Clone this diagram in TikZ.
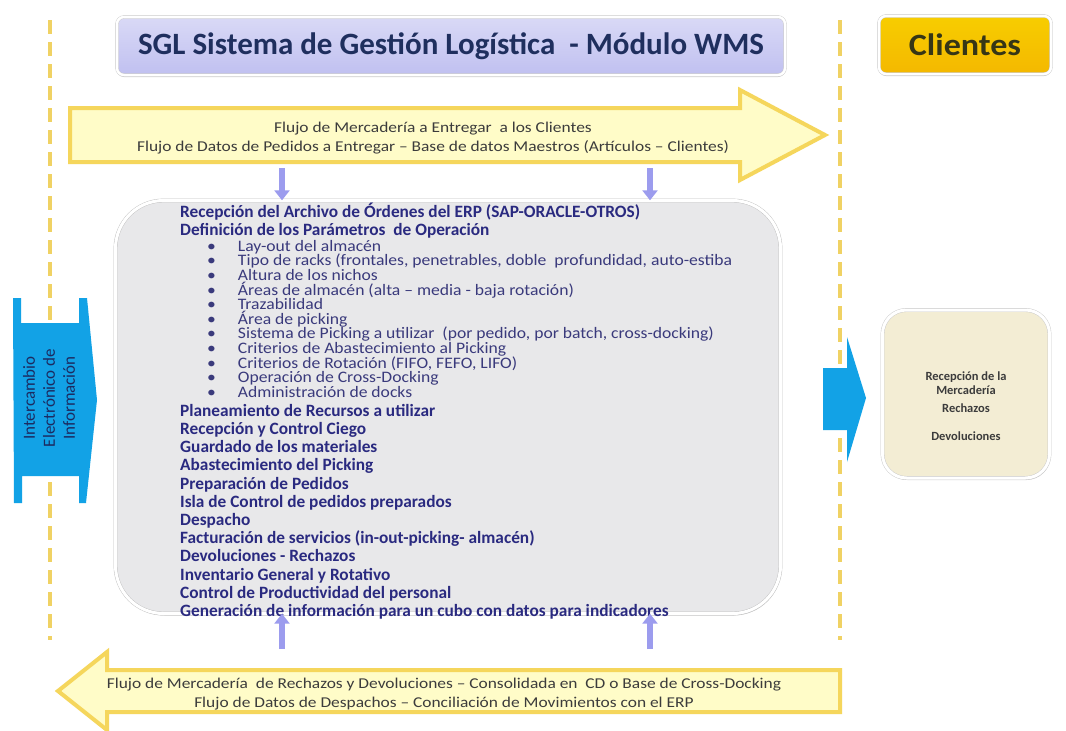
\documentclass[tikz,border=0pt]{standalone}
\usepackage{fontspec}
\setmainfont{Carlito}
\newfontfamily\flowfont[FakeStretch=1.16]{Carlito}
\newfontfamily\paramfont[FakeStretch=1.1]{Carlito}
\newfontfamily\clientfont[FakeStretch=1.1]{Carlito}
\usepackage{tikz}
\tikzset{>=latex}
\usetikzlibrary{shadows}
\usetikzlibrary{arrows.meta}
\definecolor{titlelavender}{HTML}{C0C0F0}
\definecolor{titlenavy}{HTML}{1F2F5E}
\definecolor{clientgold}{HTML}{F4B800}
\definecolor{clientbrown}{HTML}{363616}
\definecolor{flowfill}{HTML}{FFFCC8}
\definecolor{flowedge}{HTML}{F5D65C}
\definecolor{dividergold}{HTML}{F0D264}
\definecolor{stemlavender}{HTML}{9C9CEE}
\definecolor{wmsgrey}{HTML}{E8E8EA}
\definecolor{wmsnavy}{HTML}{2A2A80}
\definecolor{bulletnavy}{HTML}{3A3A7C}
\definecolor{exchangeblue}{HTML}{12A2E6}
\definecolor{exchangenavy}{HTML}{1C2A60}
\definecolor{receptioncream}{HTML}{F3EDD4}
\definecolor{flowgrey}{HTML}{3C3C3C}
\tikzset{
  titlebox/.style={draw=gray!45, double=white, double distance=2.5pt, rounded corners=7pt, top color=titlelavender!60, bottom color=titlelavender, drop shadow={opacity=0.35, shadow xshift=0pt, shadow yshift=-2pt}, text=titlenavy, font=\bfseries\fontsize{31}{34}\selectfont, minimum width=668pt, minimum height=58pt, inner sep=0pt},
  clientbox/.style={draw=gray!45, double=white, double distance=2.5pt, rounded corners=7pt, top color=clientgold!70!yellow, bottom color=clientgold, drop shadow={opacity=0.35, shadow xshift=0pt, shadow yshift=-2pt}, text=clientbrown, font=\clientfont\bfseries\fontsize{31}{34}\selectfont, minimum width=172pt, minimum height=58pt, inner sep=0pt},
  flowshape/.style={fill=flowfill, draw=flowedge, line width=4pt, line join=miter},
  flowtext/.style={text=flowgrey, font=\flowfont\fontsize{15}{19}\selectfont, align=center, inner sep=0pt},
  divider/.style={dividergold, line width=3.5pt, dash pattern=on 14pt off 8pt},
  stem/.style={stemlavender, line width=6pt, -{Triangle[width=15pt,length=10pt]}},
  wmsbox/.style={draw=gray!50, double=white, double distance=3pt, rounded corners=48pt, fill=wmsgrey, drop shadow={opacity=0.4, shadow xshift=1pt, shadow yshift=-2pt}, minimum width=665pt, minimum height=413pt, inner sep=0pt},
  steplist/.style={text=wmsnavy, font=\bfseries\fontsize{17.3}{18.2}\selectfont, align=left, anchor=north west, inner sep=0pt},
  paramlist/.style={text=bulletnavy, font=\paramfont\fontsize{16}{14.6}\selectfont, align=left, anchor=north west, inner sep=0pt},
  exchange/.style={fill=exchangeblue, draw=none},
  exchangetext/.style={text=exchangenavy, font=\fontsize{17}{20}\selectfont, align=center, rotate=90, inner sep=0pt},
  receptionbox/.style={draw=gray!45, double=white, double distance=3pt, rounded corners=24pt, fill=receptioncream, drop shadow={opacity=0.35, shadow xshift=1pt, shadow yshift=-2pt}, minimum width=167pt, minimum height=168pt, inner sep=0pt},
  receptiontext/.style={text=flowgrey, font=\bfseries\fontsize{12.5}{14}\selectfont, align=center, inner sep=0pt}
}

\begin{document}
\begin{tikzpicture}[x=1pt, y=-1pt]
\useasboundingbox[fill=white] (0,0) rectangle (1066,731);
\draw[divider] (50,20) -- (50,640);
\draw[divider] (840,20) -- (840,640);
\node[titlebox] (sgl) at (451,46) {SGL Sistema de Gestión Logística \ - Módulo WMS};
\node[clientbox] (clientes) at (965,45) {Clientes};
\draw[flowshape] (70,108) -- (740,108) -- (740,90) -- (825,135) -- (740,180) -- (740,162) -- (70,162) -- cycle;
\node[flowtext] (flowout) at (433,138) {Flujo de Mercadería a Entregar \ a los Clientes\\Flujo de Datos de Pedidos a Entregar – Base de datos Maestros (Artículos – Clientes)};
\node[wmsbox] (wms) at (448,407) {};
\coordinate (leftstem) at (282,0);
\coordinate (rightstem) at (650,0);
\draw[stem] (leftstem |- 0,168) -- (leftstem |- wms.north);
\draw[stem] (rightstem |- 0,168) -- (rightstem |- wms.north);
\node[steplist] (header) at (180,203) {Recepción del Archivo de Órdenes del ERP (SAP-ORACLE-OTROS)\\Definición de los Parámetros \ de Operación};
\node[paramlist] (params) at (207,240) {%
\textbullet\hspace{22pt}Lay-out del almacén\\
\textbullet\hspace{22pt}Tipo de racks (frontales, penetrables, doble \ profundidad, auto-estiba\\
\textbullet\hspace{22pt}Altura de los nichos\\
\textbullet\hspace{22pt}Áreas de almacén (alta – media - baja rotación)\\
\textbullet\hspace{22pt}Trazabilidad\\
\textbullet\hspace{22pt}Área de picking\\
\textbullet\hspace{22pt}Sistema de Picking a utilizar \ (por pedido, por batch, cross-docking)\\
\textbullet\hspace{22pt}Criterios de Abastecimiento al Picking\\
\textbullet\hspace{22pt}Criterios de Rotación (FIFO, FEFO, LIFO)\\
\textbullet\hspace{22pt}Operación de Cross-Docking\\
\textbullet\hspace{22pt}Administración de docks};
\node[steplist] (steps) at (180,404) {%
Planeamiento de Recursos a utilizar\\
Recepción y Control Ciego\\
Guardado de los materiales\\
Abastecimiento del Picking\\
Preparación de Pedidos\\
Isla de Control de pedidos preparados\\
Despacho\\
Facturación de servicios (in-out-picking- almacén)\\
Devoluciones - Rechazos\\
Inventario General y Rotativo\\
Control de Productividad del personal\\
Generación de información para un cubo con datos para indicadores};
\draw[flowshape] (840,670) -- (107,670) -- (107,652) -- (58,691) -- (107,730) -- (107,712) -- (840,712) -- cycle;
\node[flowtext] (flowback) at (444,694) {Flujo de Mercadería \ de Rechazos y Devoluciones – Consolidada en \ CD o Base de Cross-Docking\\Flujo de Datos de Despachos – Conciliación de Movimientos con el ERP};
\draw[stem] (leftstem |- 0,649) -- (leftstem |- wms.south);
\draw[stem] (rightstem |- 0,649) -- (rightstem |- wms.south);
\draw[exchange] (13,298) -- (21,298) -- (21,323) -- (79,323) -- (79,298) -- (87,298) -- (97,400) -- (86,503) -- (79,503) -- (79,476) -- (22,476) -- (22,503) -- (14,503) -- cycle;
\node[exchangetext] (exchangelabel) at (49,398) {Intercambio\\Electrónico de\\Información};
\draw[exchange] (823,368) -- (847,368) -- (847,337) -- (866,398) -- (847,462) -- (847,430) -- (823,430) -- cycle;
\node[receptionbox] (reception) at (966,394) {};
\node[receptiontext] (receptionlabel) at ([yshift=-12pt]reception.center) {Recepción de la\\Mercadería\\[4pt]Rechazos\\[14pt]Devoluciones};
\end{tikzpicture}
\end{document}
